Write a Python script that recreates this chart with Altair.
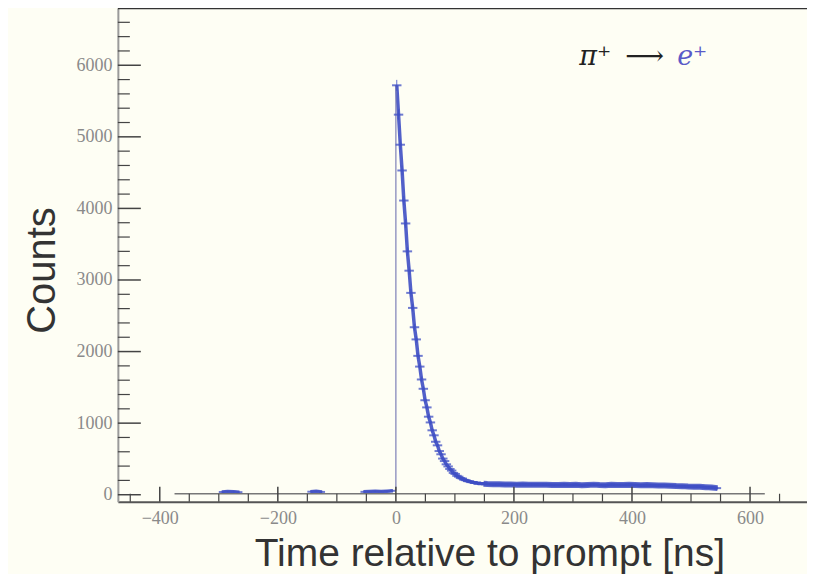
import altair as alt
import pandas as pd

# ---------------- data ----------------
# pre-prompt bins (10 ns), only where blue points are visible
pre_t = [-295, -285, -275, -265, -145, -135, -125, -55, -45, -35, -25, -15, -5]
pre_counts = [38, 44, 41, 36, 42, 47, 39, 40, 44, 47, 45, 50, 55]
pre_seg = [1, 1, 1, 1, 2, 2, 2, 3, 3, 3, 3, 3, 3]

# decay region (3 ns bins)
decay_t = [1.5, 4.5, 7.5, 10.5, 13.5, 16.5, 19.5, 22.5, 25.5, 28.5,
           31.5, 34.5, 37.5, 40.5, 43.5, 46.5, 49.5, 52.5, 55.5, 58.5,
           61.5, 64.5, 67.5, 70.5, 73.5, 76.5, 79.5, 82.5, 85.5, 88.5,
           91.5, 94.5, 97.5, 100.5, 103.5, 106.5, 109.5, 112.5, 115.5, 118.5,
           121.5, 124.5, 127.5, 130.5, 133.5, 136.5, 139.5, 142.5, 145.5, 148.5]
decay_counts = [5720, 5310, 4890, 4530, 4110, 3790, 3400, 3130, 2820, 2610,
                2340, 2170, 1940, 1790, 1610, 1480, 1320, 1220, 1090, 1010,
                900, 830, 740, 690, 610, 565, 505, 470, 425, 395,
                360, 337, 305, 290, 264, 252, 233, 226, 208, 203,
                190, 187, 176, 175, 165, 166, 158, 159, 152, 154]

# flat tail (10 ns bins)
tail_t = [155, 165, 175, 185, 195, 205, 215, 225, 235, 245,
          255, 265, 275, 285, 295, 305, 315, 325, 335, 345,
          355, 365, 375, 385, 395, 405, 415, 425, 435, 445,
          455, 465, 475, 485, 495, 505, 515, 525, 535, 545]
tail_counts = [150, 147, 146, 144, 143, 141, 144, 139, 141, 138,
               140, 137, 136, 139, 135, 138, 134, 137, 141, 136,
               133, 138, 135, 137, 140, 136, 132, 135, 131, 128,
               130, 126, 122, 120, 115, 112, 110, 106, 100, 92]

# empty-histogram baseline range
base_t = [-375, 625]
base_counts = [15, 15]

# axes
x_major = [-400, -200, 0, 200, 400, 600]
x_minor = [-450, -350, -300, -250, -150, -100, -50, 50, 100, 150,
           250, 300, 350, 450, 500, 550, 650]
y_major = [0, 1000, 2000, 3000, 4000, 5000, 6000]
y_minor = [200, 400, 600, 800, 1200, 1400, 1600, 1800, 2200, 2400, 2600, 2800,
           3200, 3400, 3600, 3800, 4200, 4400, 4600, 4800, 5200, 5400, 5600, 5800,
           6200, 6400, 6600]

# ---------------- build tables ----------------
rows = []
for t, c, s in zip(pre_t, pre_counts, pre_seg):
    rows.append({"t": t, "count": c, "seg": s, "hw": 5})
for t, c in zip(decay_t, decay_counts):
    rows.append({"t": t, "count": c, "seg": 4, "hw": 8})
for t, c in zip(tail_t, tail_counts):
    rows.append({"t": t, "count": c, "seg": 4, "hw": 6})
df = pd.DataFrame(rows)
tail_df = pd.DataFrame({"t": [decay_t[-1]] + tail_t, "count": [decay_counts[-1]] + tail_counts})

BLUE = "#3f4fc4"
TICK = "#444444"
W, H = 690, 494

xscale = alt.Scale(domain=[-471, 696.5], nice=False, zero=False)
yscale = alt.Scale(domain=[-98, 6795], nice=False, zero=False)

XT = "Time relative to prompt [ns]"
YT = "Counts"


def xaxis():
    return alt.Axis(values=x_major, format="d", ticks=False, tickSize=0, grid=False,
                    domainColor="#555555", domainWidth=2, labelPadding=8,
                    labelFont="Liberation Serif", labelFontSize=18, labelColor="#8a8a8a",
                    title=XT, titleFont="Liberation Sans",
                    titleFontSize=39, titleFontWeight="normal", titleColor="#333333",
                    titleX=372, titleY=64, titleAlign="center", titleBaseline="alphabetic")


def yaxis():
    return alt.Axis(values=y_major, format="d", ticks=False, tickSize=0, grid=False,
                    domainColor="#9a9a9a", domainWidth=2, labelPadding=6,
                    labelFont="Liberation Serif", labelFontSize=18, labelColor="#8a8a8a",
                    title=YT, titleFont="Liberation Sans", titleFontSize=40,
                    titleFontWeight="normal", titleColor="#333333",
                    titleX=-63, titleY=262, titleAngle=270, titleAlign="center",
                    titleBaseline="alphabetic")


def X(f):
    return alt.X(f, scale=xscale, axis=xaxis(), title=XT)


def Y(f):
    return alt.Y(f, scale=yscale, axis=yaxis(), title=YT)


base = alt.Chart(df)

line = base.mark_line(color=BLUE, strokeWidth=3.5, opacity=0.9).encode(
    x=X("t:Q"), y=Y("count:Q"), detail="seg:N", order="t:Q",
)

tail_band = alt.Chart(tail_df).mark_line(color=BLUE, strokeWidth=6, opacity=0.85).encode(
    x=X("t:Q"), y=Y("count:Q"), order="t:Q",
)

caps = base.transform_calculate(
    lo="datum.t - datum.hw", hi="datum.t + datum.hw"
).mark_rule(color=BLUE, strokeWidth=2, opacity=0.75).encode(
    x=X("lo:Q"), x2="hi:Q", y=Y("count:Q"),
)

errs = base.transform_calculate(
    elo="datum.count - sqrt(datum.count)", ehi="datum.count + sqrt(datum.count)"
).mark_rule(color=BLUE, strokeWidth=1, opacity=0.8).encode(
    x=X("t:Q"), y=Y("elo:Q"), y2="ehi:Q",
)

baseline = alt.Chart(pd.DataFrame({"t": base_t, "count": base_counts})).mark_line(
    color="#777777", strokeWidth=1.5
).encode(x=X("t:Q"), y=Y("count:Q"))

zero_df = pd.DataFrame({"t": [0], "lo": [pre_counts[-1]], "hi": [decay_counts[0]]})
zero_rule = alt.Chart(zero_df).mark_rule(color="#7d80b8", strokeWidth=1.2).encode(
    x=X("t:Q"), y=Y("lo:Q"), y2="hi:Q",
)

xt_major = alt.Chart(pd.DataFrame({"v": x_major})).mark_rule(color=TICK, strokeWidth=1.5).encode(
    x=X("v:Q"), y=alt.value(H), y2=alt.value(H - 15))
xt_minor = alt.Chart(pd.DataFrame({"v": x_minor})).mark_rule(color=TICK, strokeWidth=1.2).encode(
    x=X("v:Q"), y=alt.value(H), y2=alt.value(H - 8))
yt_major = alt.Chart(pd.DataFrame({"v": y_major})).mark_rule(color=TICK, strokeWidth=1.5).encode(
    y=Y("v:Q"), x=alt.value(0), x2=alt.value(23))
yt_minor = alt.Chart(pd.DataFrame({"v": y_minor})).mark_rule(color=TICK, strokeWidth=1.2).encode(
    y=Y("v:Q"), x=alt.value(0), x2=alt.value(12))

top_line = alt.Chart(pd.DataFrame({"a": [0]})).mark_rule(color="#333333", strokeWidth=2).encode(
    x=alt.value(0), x2=alt.value(W), y=alt.value(0))


def ann_text(s, px, color, style):
    return alt.Chart(pd.DataFrame({"s": [s]})).mark_text(
        font="DejaVu Serif", fontSize=27, fontStyle=style, color=color,
        align="left", baseline="alphabetic").encode(
        text="s:N", x=alt.value(px), y=alt.value(57))


ann_pi = ann_text("π⁺", 462, "#222222", "italic")
ann_arrow = ann_text("⟶", 508, "#222222", "normal")
ann_e = ann_text("e⁺", 560, "#5a5ac8", "italic")

chart = alt.layer(
    line, tail_band, baseline, zero_rule, errs, caps,
    xt_major, xt_minor, yt_major, yt_minor, top_line,
    ann_pi, ann_arrow, ann_e
).properties(
    width=W, height=H,
    autosize=alt.AutoSizeParams(type="none"),
    padding={"left": 110, "top": 0, "right": 0, "bottom": 72},
    background="#fefef4",
).configure_view(strokeWidth=0)

chart.save("out.html", embed_options={"renderer": "svg", "actions": False})
